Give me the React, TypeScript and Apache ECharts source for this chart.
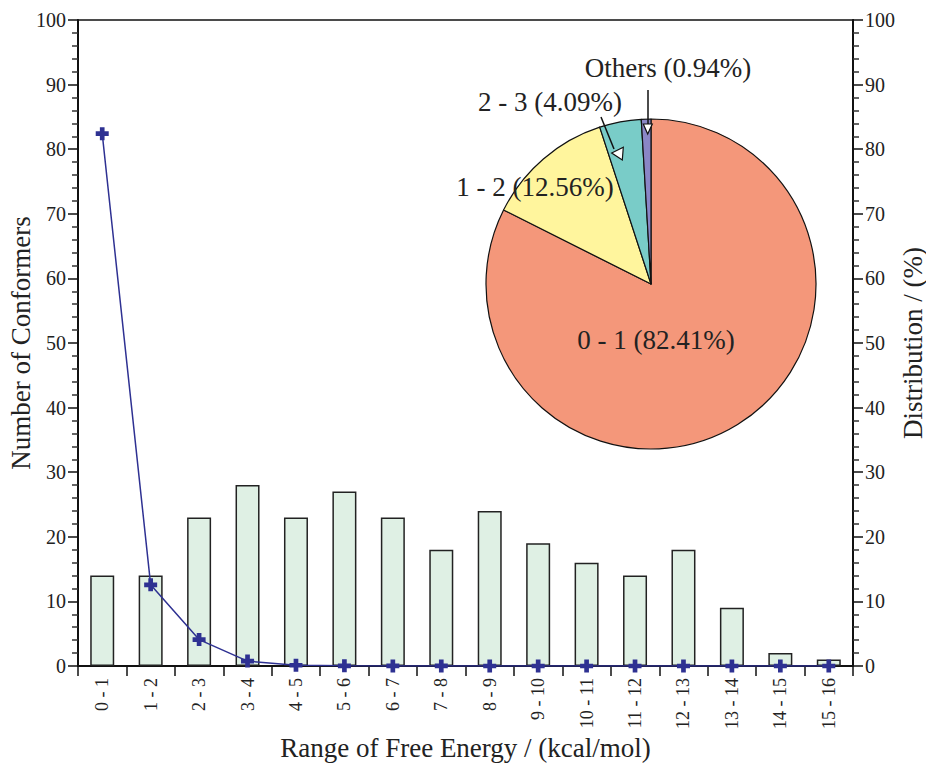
import React, { useEffect, useRef } from "react";
import * as echarts from "echarts";

const categories = ["0 - 1", "1 - 2", "2 - 3", "3 - 4", "4 - 5", "5 - 6", "6 - 7", "7 - 8", "8 - 9", "9 - 10", "10 - 11", "11 - 12", "12 - 13", "13 - 14", "14 - 15", "15 - 16"];
const conformerCounts = [14, 14, 23, 28, 23, 27, 23, 18, 24, 19, 16, 14, 18, 9, 2, 1];
const distribution = [82.41, 12.56, 4.09, 0.76, 0.12, 0.03, 0.01, 0.01, 0.005, 0.003, 0.002, 0.001, 0.001, 0.0, 0.0, 0.0];
const pieNames = ["0 - 1", "1 - 2", "2 - 3", "Others"];
const pieValues = [82.41, 12.56, 4.09, 0.94];
const pieColors = ["#f4977a", "#fff59d", "#79ccc8", "#8a86c6"];

const FONT = "'Liberation Serif', 'DejaVu Serif', serif";
const TXT = "#222";

export default function App() {
  const ref = useRef<HTMLDivElement>(null);
  useEffect(() => {
    document.body.style.margin = "0";
    const chart = echarts.init(ref.current!, null, { renderer: "svg" });
    const plus = "path://M3.2,0 H6.8 V3.2 H10 V6.8 H6.8 V10 H3.2 V6.8 H0 V3.2 H3.2 Z";
    const yAxisCommon = {
      type: "value",
      min: 0,
      max: 100,
      interval: 10,
      axisLine: { show: true, lineStyle: { color: "#111", width: 2 } },
      axisTick: { show: true, inside: false, length: 10, lineStyle: { color: "#111", width: 1.5 } },
      minorTick: { show: true, splitNumber: 5, length: 6, lineStyle: { color: "#333", width: 1.5 } },
      splitLine: { show: false },
      axisLabel: { color: TXT, fontFamily: FONT, fontSize: 20, margin: 12 },
      nameLocation: "middle",
      nameMoveOverlap: false,
      nameTextStyle: { color: TXT, fontFamily: FONT, fontSize: 27 },
    };
    chart.setOption({
      animation: false,
      backgroundColor: "#fff",
      grid: { left: 78, right: 73, top: 20, bottom: 97, show: true, borderColor: "#111", borderWidth: 1.5, containLabel: false, outerBoundsMode: "none" },
      xAxis: {
        type: "category",
        data: categories,
        boundaryGap: true,
        axisLine: { lineStyle: { color: "#111", width: 2 } },
        axisTick: { show: true, length: 10, alignWithLabel: false, lineStyle: { color: "#111", width: 1.5 } },
        axisLabel: { rotate: 90, color: TXT, fontFamily: FONT, fontSize: 18, margin: 12, interval: 0 },
        name: "Range of Free Energy / (kcal/mol)",
        nameLocation: "middle",
        nameMoveOverlap: false,
        nameGap: 68,
        nameTextStyle: { color: TXT, fontFamily: FONT, fontSize: 27 },
      },
      yAxis: [
        { ...yAxisCommon, position: "left", name: "Number of Conformers", nameGap: 44 },
        { ...yAxisCommon, position: "right", name: "Distribution / (%)", nameGap: 46, nameRotate: 90 },
      ],
      series: [
        {
          type: "bar",
          data: conformerCounts,
          barWidth: 24,
          yAxisIndex: 0,
          itemStyle: { color: "#dff0e4", borderColor: "#222", borderWidth: 1.5 },
          z: 2,
        },
        {
          type: "line",
          data: distribution,
          yAxisIndex: 1,
          symbol: plus,
          symbolSize: 13,
          lineStyle: { color: "#2e3192", width: 1.5 },
          itemStyle: { color: "#2e3192" },
          z: 4,
        },
        {
          type: "pie",
          center: [651, 284],
          radius: 165,
          startAngle: 90,
          clockwise: true,
          label: { show: false },
          labelLine: { show: false },
          itemStyle: { borderColor: "#111", borderWidth: 1.2 },
          data: pieNames.map((n, i) => ({ name: n, value: pieValues[i], itemStyle: { color: pieColors[i] } })),
          z: 5,
        },
      ],
      graphic: [
        { type: "text", x: 656, y: 340, style: { text: "0 - 1 (82.41%)", font: `27px ${FONT}`, fill: TXT, align: "center", verticalAlign: "middle" }, z: 100 },
        { type: "text", x: 535, y: 187, style: { text: "1 - 2 (12.56%)", font: `27px ${FONT}`, fill: TXT, align: "center", verticalAlign: "middle" }, z: 100 },
        { type: "text", x: 550, y: 102, style: { text: "2 - 3 (4.09%)", font: `27px ${FONT}`, fill: TXT, align: "center", verticalAlign: "middle" }, z: 100 },
        { type: "text", x: 668, y: 68, style: { text: "Others (0.94%)", font: `27px ${FONT}`, fill: TXT, align: "center", verticalAlign: "middle" }, z: 100 },
        { type: "line", shape: { x1: 601, y1: 117, x2: 614, y2: 149 }, style: { stroke: "#111", lineWidth: 1.5 }, z: 100 },
        { type: "polygon", shape: { points: [[611.7, 153], [623.3, 147.3], [622.3, 160]] }, style: { fill: "#fff", stroke: "#111", lineWidth: 1.2 }, z: 100 },
        { type: "line", shape: { x1: 648, y1: 90, x2: 648, y2: 124 }, style: { stroke: "#111", lineWidth: 1.5 }, z: 100 },
        { type: "polygon", shape: { points: [[643.3, 124], [652.3, 124], [647.7, 134]] }, style: { fill: "#fff", stroke: "#111", lineWidth: 1.2 }, z: 100 },
      ],
    });
    return () => chart.dispose();
  }, []);
  return <div ref={ref} style={{ width: 926, height: 763 }} />;
}
